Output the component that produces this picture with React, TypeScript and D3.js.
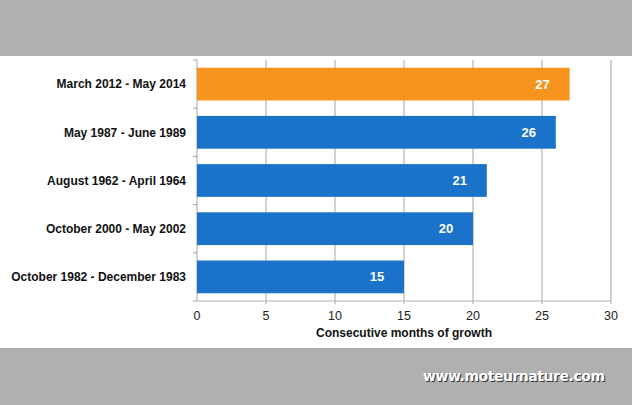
import React from "react";
import * as d3 from "d3";

const categories = [
  "March 2012 - May 2014",
  "May 1987 - June 1989",
  "August 1962 - April 1964",
  "October 2000 - May 2002",
  "October 1982 - December 1983",
];
const values = [27, 26, 21, 20, 15];
const barColors = ["#f7941e", "#1a73c9", "#1a73c9", "#1a73c9", "#1a73c9"];
const xTicks = [0, 5, 10, 15, 20, 25, 30];
const xTitle = "Consecutive months of growth";
const watermark = "www.moteurnature.com";

const W = 632;
const H = 405;

export default function App() {
  const x = d3.scaleLinear().domain([0, 30]).range([197, 611]);
  const y = d3.scaleBand<string>().domain(categories).range([60, 301]).paddingInner(0.32).paddingOuter(0.16);
  const bandStep = y.step();
  const font = "'Liberation Sans', Arial, sans-serif";
  return (
    <svg width={W} height={H} style={{ position: "absolute", left: 0, top: 0 }}>
      <rect x={0} y={0} width={W} height={H} fill="#ffffff" />
      <rect x={0} y={0} width={W} height={56} fill="#b0b0b0" />
      <rect x={0} y={348} width={W} height={H - 348} fill="#b0b0b0" />
      {/* gridlines */}
      {xTicks.map((t) => (
        <line key={"g" + t} x1={x(t)} x2={x(t)} y1={60} y2={t === 0 ? 301 : 304} stroke="#b4b4b4" strokeWidth={1.2} />
      ))}
      {/* y axis ticks at band boundaries */}
      {d3.range(categories.length + 1).map((i) => {
        const yy = 60 + i * bandStep;
        return <line key={"yt" + i} x1={193} x2={197} y1={yy} y2={yy} stroke="#a0a0a0" strokeWidth={1} />;
      })}
      {/* bars */}
      {categories.map((c, i) => (
        <rect
          key={c}
          x={x(0)}
          y={y(c)!}
          width={x(values[i]) - x(0)}
          height={y.bandwidth()}
          fill={barColors[i]}
        />
      ))}
      {/* x axis line */}
      <line x1={x(0)} x2={x(30)} y1={301} y2={301} stroke="#b4b4b4" strokeWidth={1.2} />
      {/* value labels */}
      {categories.map((c, i) => (
        <text
          key={"v" + c}
          x={x(values[i]) - 27}
          y={y(c)! + y.bandwidth() / 2}
          dy="0.35em"
          textAnchor="middle"
          fill="#ffffff"
          fontFamily={font}
          fontWeight="bold"
          fontSize={13}
        >
          {values[i]}
        </text>
      ))}
      {/* category labels */}
      {categories.map((c) => (
        <text
          key={"c" + c}
          x={186}
          y={y(c)! + y.bandwidth() / 2}
          dy="0.35em"
          textAnchor="end"
          fill="#111111"
          fontFamily={font}
          fontWeight="bold"
          fontSize={12}
        >
          {c}
        </text>
      ))}
      {/* x tick labels */}
      {xTicks.map((t) => (
        <text
          key={"xl" + t}
          x={x(t)}
          y={316}
          dy="0.35em"
          textAnchor="middle"
          fill="#222222"
          fontFamily={font}
          fontSize={12.5}
        >
          {t}
        </text>
      ))}
      <text
        x={(x(0) + x(30)) / 2}
        y={333}
        dy="0.35em"
        textAnchor="middle"
        fill="#111111"
        fontFamily={font}
        fontWeight="bold"
        fontSize={12}
      >
        {xTitle}
      </text>
      {/* watermark */}
      <text
        x={424}
        y={382}
        fill="#333333"
        fontFamily="'DejaVu Sans', Verdana, sans-serif"
        fontWeight="bold"
        fontSize={14}
        textLength={182}
        lengthAdjust="spacing"
      >
        {watermark}
      </text>
      <text
        x={423}
        y={381}
        fill="#ffffff"
        fontFamily="'DejaVu Sans', Verdana, sans-serif"
        fontWeight="bold"
        fontSize={14}
        textLength={182}
        lengthAdjust="spacing"
      >
        {watermark}
      </text>
    </svg>
  );
}
